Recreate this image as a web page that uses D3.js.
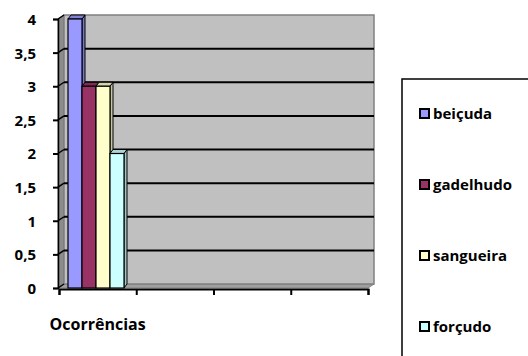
<!DOCTYPE html>
<html>
<head>
<meta charset="utf-8">
<script src="https://cdn.jsdelivr.net/npm/d3@7"></script>
<style>
  body { margin: 0; background: #fff; }
  svg text { font-family: "Open Sans", sans-serif; font-weight: 700; fill: #000; }
</style>
</head>
<body>
<div id="chart"></div>
<script>
var categories = ["Ocorrências", "", "", ""];
var series = ["beiçuda", "gadelhudo", "sangueira", "forçudo"];
var values = [4, 3, 3, 2];
var yTicks = [0, 0.5, 1, 1.5, 2, 2.5, 3, 3.5, 4];
var colors = ["#9999FF", "#993366", "#FFFFCC", "#CCFFFF"];

var W = 528, H = 356;
var svg = d3.select("#chart").append("svg")
  .attr("width", W)
  .attr("height", H);

// front plane scales
var y = d3.scaleLinear().domain([0, 4]).range([288, 19]);
var x = d3.scaleBand().domain(d3.range(categories.length)).range([59, 368]);
var xs = d3.scaleBand().domain(series).range([x(0) + 9, x(0) + 9 + 56]);

var depth = { dx: 6, dy: -4 };   // wall depth
var bdep = { dx: 3, dy: -4 };    // bar depth
var fmt = function(d) { return String(d).replace(".", ","); };

// left side wall
svg.append("path")
  .attr("d", "M" + 58 + "," + y(0) + "L" + 58 + "," + y(4) +
    "L" + (58 + depth.dx) + "," + (y(4) + depth.dy) +
    "L" + (58 + depth.dx) + "," + (y(0) + depth.dy) + "Z")
  .attr("fill", "#8c8c8c")
  .attr("stroke", "#707070");

// floor
svg.append("path")
  .attr("d", "M58," + y(0) + "L368," + y(0) + "L" + (368 + depth.dx) + "," + (y(0) + depth.dy) +
    "L" + (58 + depth.dx) + "," + (y(0) + depth.dy) + "Z")
  .attr("fill", "#a0a0a0")
  .attr("stroke", "#808080");

// back wall
svg.append("rect")
  .attr("x", 58 + depth.dx)
  .attr("y", y(4) + depth.dy)
  .attr("width", 368 - 58)
  .attr("height", y(0) - y(4))
  .attr("fill", "#C0C0C0")
  .attr("stroke", "#808080")
  .attr("stroke-width", 1.5);

// gridlines on back wall
svg.append("g").selectAll("line")
  .data(yTicks.filter(function(d) { return d > 0 && d < 4; }))
  .enter().append("line")
  .attr("x1", 58 + depth.dx)
  .attr("x2", 368 + depth.dx)
  .attr("y1", function(d) { return y(d) + depth.dy; })
  .attr("y2", function(d) { return y(d) + depth.dy; })
  .attr("stroke", "#000")
  .attr("stroke-width", 2);

// gridlines on left wall
svg.append("g").selectAll("line")
  .data(yTicks)
  .enter().append("line")
  .attr("x1", 58)
  .attr("x2", 58 + depth.dx)
  .attr("y1", function(d) { return y(d); })
  .attr("y2", function(d) { return y(d) + depth.dy; })
  .attr("stroke", "#000")
  .attr("stroke-width", 1.5);

// bars
var bars = svg.append("g").selectAll("g")
  .data(series)
  .enter().append("g");

bars.append("path") // side
  .attr("d", function(d, i) {
    var x1 = xs(d) + xs.bandwidth(), y0 = y(0), y1 = y(values[i]);
    return "M" + x1 + "," + y0 + "L" + x1 + "," + y1 +
      "L" + (x1 + bdep.dx) + "," + (y1 + bdep.dy) +
      "L" + (x1 + bdep.dx) + "," + (y0 + bdep.dy) + "Z";
  })
  .attr("fill", function(d, i) { return d3.color(colors[i]).darker(0.7); })
  .attr("stroke", "#000")
  .attr("stroke-width", 1);

bars.append("path") // top
  .attr("d", function(d, i) {
    var x0 = xs(d), x1 = xs(d) + xs.bandwidth(), y1 = y(values[i]);
    return "M" + x0 + "," + y1 + "L" + x1 + "," + y1 +
      "L" + (x1 + bdep.dx) + "," + (y1 + bdep.dy) +
      "L" + (x0 + bdep.dx) + "," + (y1 + bdep.dy) + "Z";
  })
  .attr("fill", function(d, i) { return d3.color(colors[i]).darker(0.5); })
  .attr("stroke", "#000")
  .attr("stroke-width", 1);

bars.append("rect") // front
  .attr("x", function(d) { return xs(d); })
  .attr("y", function(d, i) { return y(values[i]); })
  .attr("width", xs.bandwidth())
  .attr("height", function(d, i) { return y(0) - y(values[i]); })
  .attr("fill", function(d, i) { return colors[i]; })
  .attr("stroke", "#000")
  .attr("stroke-width", 1.2);

// y axis
var yAxis = svg.append("g")
  .attr("transform", "translate(58,0)")
  .call(d3.axisLeft(y).tickValues(yTicks).tickFormat(fmt).tickSize(5).tickPadding(17));
yAxis.select(".domain").attr("stroke", "#000").attr("stroke-width", 1.5);
yAxis.selectAll(".tick line").attr("stroke", "#000").attr("stroke-width", 2);
yAxis.selectAll("text")
  .attr("dy", "0.36em")
  .style("font-size", "15px")
  .style("font-family", "'Open Sans', sans-serif")
  .style("font-weight", "700");

// x axis
var xAxis = svg.append("g")
  .attr("transform", "translate(0," + (y(0) + 1) + ")")
  .call(d3.axisBottom(d3.scaleLinear().domain([0, 4]).range([59, 368])).ticks(4).tickFormat("").tickSize(6));
xAxis.select(".domain").attr("stroke", "#000").attr("stroke-width", 2);
xAxis.selectAll(".tick line").attr("stroke", "#000").attr("stroke-width", 2);

svg.append("g").selectAll("text")
  .data(categories)
  .enter().append("text")
  .attr("x", function(d, i) { return x(i) + x.bandwidth() / 2; })
  .attr("y", 330)
  .attr("text-anchor", "middle")
  .style("font-size", "16px")
  .text(function(d) { return d; });

// legend
var legend = svg.append("g").attr("transform", "translate(402,79)");
legend.append("rect")
  .attr("x", 0).attr("y", 0)
  .attr("width", 140).attr("height", 290)
  .attr("fill", "#fff")
  .attr("stroke", "#000")
  .attr("stroke-width", 1.5);

var items = legend.selectAll(".item")
  .data(series)
  .enter().append("g")
  .attr("class", "item")
  .attr("transform", function(d, i) { return "translate(18," + (40 + i * 71) + ")"; });

items.append("rect")
  .attr("x", 0).attr("y", -10)
  .attr("width", 9).attr("height", 9)
  .attr("fill", function(d, i) { return colors[i]; })
  .attr("stroke", "#000")
  .attr("stroke-width", 2);

items.append("text")
  .attr("x", 13)
  .attr("y", 0)
  .style("font-size", "15px")
  .text(function(d) { return d; });
</script>
</body>
</html>
